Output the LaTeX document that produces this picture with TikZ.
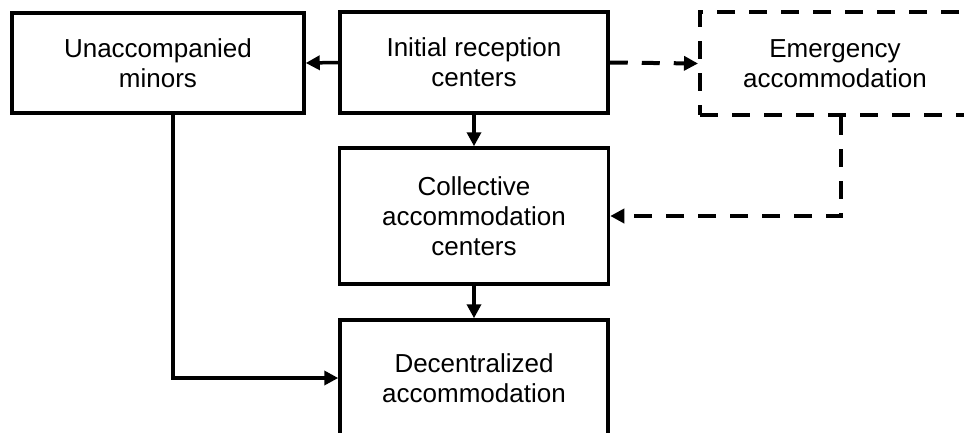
\documentclass[tikz,border=0pt]{standalone}
\usepackage{fontspec}
\setmainfont{Liberation Sans}
\usetikzlibrary{arrows.meta}

\begin{document}
\begin{tikzpicture}[x=1pt,y=-1pt,>={Triangle[length=14pt,width=14pt]},
    box/.style={draw,line width=3.5pt,align=center,inner sep=0pt,
      font=\fontsize{26}{30}\selectfont},
    link/.style={->,line width=3.5pt},
    dashlink/.style={link,line width=4pt,dash pattern=on 18pt off 14pt}]
  \useasboundingbox (0,0) rectangle (964,432);
  % the five stages
  \node[box,minimum width=292pt,minimum height=100pt] (minors) at (158,63) {Unaccompanied\\minors};
  \node[box,minimum width=268pt,minimum height=101pt] (initial) at (474,62.5) {Initial reception\\centers};
  \node[box,line width=4pt,dash pattern=on 18pt off 14pt,minimum width=270pt,minimum height=103pt] (emergency) at (835,63.5) {Emergency\\accommodation};
  \node[box,minimum width=269pt,minimum height=136pt] (collective) at (474,216) {Collective\\accommodation\\centers};
  \node[box,minimum width=268pt,minimum height=116pt] (decentral) at (474,378) {Decentralized\\accommodation};
  % solid transfers
  \draw[link] (initial.west) -- (minors.east);
  \draw[link] (initial) -- (collective);
  \draw[link] (collective) -- (decentral);
  \draw[link] ([xshift=15pt]minors.south) |- (decentral.west);
  % emergency route
  \draw[dashlink] (initial.east) -- (emergency.west);
  \draw[dashlink] ([xshift=6pt]emergency.south) |- (collective.east);
\end{tikzpicture}
\end{document}
